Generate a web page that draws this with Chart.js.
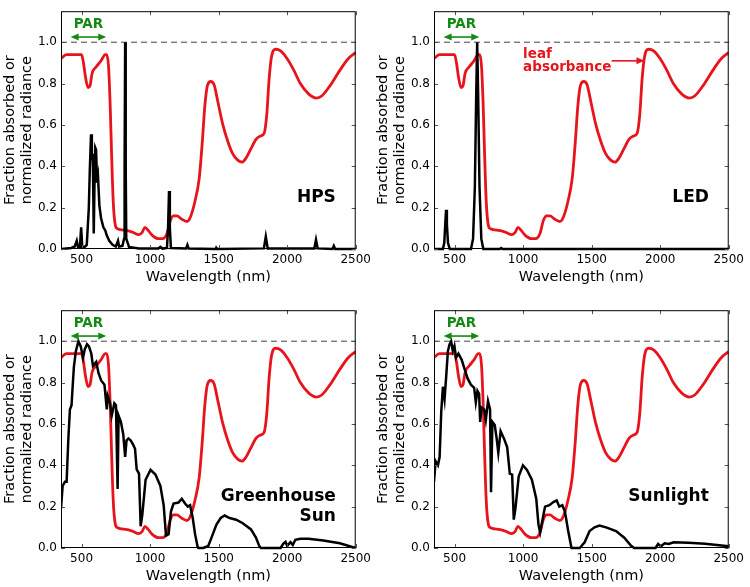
<!DOCTYPE html>
<html>
<head>
<meta charset="utf-8">
<script src="https://cdn.jsdelivr.net/npm/chart.js@4"></script>
<style>
  html, body { margin: 0; padding: 0; background: #fff; overflow: hidden; }
  #quadro { position: relative; width: 750px; height: 587px; overflow: hidden; }
  .painel { position: absolute; width: 375px; height: 293px; }
</style>
</head>
<body>
<div id="quadro">
  <div class="painel" style="left:0;top:0"><canvas id="hps"></canvas></div>
  <div class="painel" style="left:373px;top:0"><canvas id="led"></canvas></div>
  <div class="painel" style="left:0;top:299px"><canvas id="estufa"></canvas></div>
  <div class="painel" style="left:373px;top:299px"><canvas id="sol"></canvas></div>
</div>
<script>
// Absorbância da folha (igual nos quatro painéis)
const ondaFolha = [350, 389, 500, 514, 529, 548, 562, 577, 606, 630, 642, 673, 683, 697, 709, 719, 731, 745, 762,
  822, 870, 918, 942, 962, 986, 1014, 1062, 1091, 1123, 1147, 1171, 1195, 1231, 1267, 1291, 1327, 1358, 1380,
  1399, 1418, 1442, 1466, 1495, 1531, 1567, 1603, 1639, 1671, 1700, 1736, 1772, 1808, 1832, 1851, 1868, 1885,
  1916, 1952, 2000, 2048, 2096, 2156, 2212, 2252, 2313, 2385, 2445, 2500];
const absFolha = [0.92, 0.94, 0.94, 0.90, 0.83, 0.78, 0.79, 0.85, 0.88, 0.90, 0.91, 0.94, 0.94, 0.88, 0.69, 0.46, 0.23, 0.12, 0.098,
  0.09, 0.082, 0.07, 0.08, 0.105, 0.09, 0.067, 0.05, 0.05, 0.075, 0.136, 0.16, 0.16, 0.144, 0.133, 0.15, 0.23, 0.34, 0.51,
  0.69, 0.79, 0.81, 0.795, 0.71, 0.60, 0.52, 0.46, 0.43, 0.42, 0.44, 0.485, 0.53, 0.547, 0.56, 0.65, 0.82, 0.927,
  0.966, 0.958, 0.92, 0.865, 0.80, 0.75, 0.73, 0.74, 0.79, 0.865, 0.92, 0.95];

// Lâmpada de sódio (HPS)
const ondaHps = [350, 425, 450, 465, 474, 488, 497, 505, 522, 538, 553, 560, 569, 575, 582, 589, 594, 600, 606, 613, 620,
  630, 642, 659, 673, 683, 702, 726, 750, 766, 774, 798, 810, 814, 818, 822, 826, 846, 918, 1060, 1075, 1090, 1123, 1131,
  1138, 1144, 1152, 1262, 1272, 1282, 1480, 1483, 1490, 1830, 1844, 1858, 2198, 2210, 2222, 2330, 2340, 2350, 2500];
const radHps = [0, 0.005, 0.012, 0.04, 0.01, 0.01, 0.105, 0.01, 0.01, 0.02, 0.2, 0.38, 0.555, 0.43, 0.46, 0.075, 0.3, 0.49, 0.48, 0.32, 0.35,
  0.21, 0.15, 0.105, 0.09, 0.067, 0.04, 0.02, 0.012, 0.04, 0.012, 0.015, 0.05, 0.4, 1.0, 0.4, 0.05, 0.01, 0.003, 0.002, 0.01, 0.002, 0.005, 0.1,
  0.28, 0.1, 0.005, 0.002, 0.02, 0.002, 0, 0.006, 0, 0.003, 0.06, 0.003, 0.003, 0.045, 0.003, 0, 0.015, 0, 0];

// LED
const ondaLed = [350, 415, 425, 432, 438, 444, 452, 465, 620, 635, 648, 658, 665, 672, 682, 695, 710, 830, 840, 850, 2500];
const radLed = [0, 0, 0.03, 0.12, 0.19, 0.12, 0.03, 0, 0, 0.05, 0.3, 0.75, 1.0, 0.75, 0.3, 0.05, 0, 0, 0.005, 0, 0];

// Sol dentro da estufa
const ondaEstufa = [350, 362, 379, 391, 403, 415, 427, 434, 444, 458, 477, 494, 511, 523, 540, 554, 571, 583, 607, 624, 643, 667,
  684, 691, 708, 720, 739, 751, 763, 770, 787, 804, 818, 828, 842, 859, 876, 890, 902, 919, 931, 943, 967, 1003, 1039, 1075,
  1099, 1116, 1135, 1152, 1171, 1207, 1231, 1255, 1275, 1292, 1311, 1328, 1347, 1352, 1388, 1424, 1448, 1484, 1515, 1544,
  1580, 1628, 1676, 1736, 1772, 1796, 1808, 1952, 1971, 1988, 2000, 2024, 2041, 2060, 2096, 2156, 2264, 2384, 2500];
const radEstufa = [0.19, 0.30, 0.32, 0.32, 0.52, 0.67, 0.69, 0.77, 0.876, 0.95, 1.0, 0.975, 0.92, 0.96, 0.985, 0.975, 0.94, 0.88, 0.9, 0.845, 0.81, 0.79,
  0.67, 0.735, 0.70, 0.64, 0.70, 0.69, 0.285, 0.64, 0.61, 0.55, 0.44, 0.52, 0.53, 0.52, 0.50, 0.48, 0.38, 0.36, 0.105, 0.16, 0.33, 0.378, 0.355, 0.30,
  0.207, 0.06, 0.067, 0.176, 0.215, 0.22, 0.238, 0.215, 0.2, 0.207, 0.145, 0.067, 0.005, 0, 0, 0.01, 0.05, 0.113, 0.145, 0.157,
  0.145, 0.137, 0.12, 0.09, 0.05, 0.01, 0, 0, 0.02, 0.03, 0.01, 0.028, 0.015, 0.04, 0.045, 0.045, 0.036, 0.023, 0.0];

// Luz do sol
const ondaSol = [350, 362, 379, 391, 403, 415, 427, 439, 451, 463, 475, 487, 499, 511, 528, 552, 571, 595, 619, 643, 655, 667,
  679, 687, 696, 716, 728, 744, 759, 766, 776, 793, 807, 819, 836, 860, 884, 903, 920, 932, 944, 968, 999, 1028, 1064, 1096,
  1112, 1124, 1144, 1160, 1192, 1221, 1245, 1264, 1286, 1305, 1329, 1353, 1413, 1449, 1485, 1521, 1557, 1605, 1678, 1738,
  1786, 1810, 1966, 1985, 2005, 2033, 2062, 2098, 2206, 2327, 2500];
const radSol = [0.32, 0.42, 0.40, 0.44, 0.66, 0.78, 0.72, 0.83, 0.95, 0.985, 1.0, 0.953, 0.977, 0.92, 0.94, 0.91, 0.87, 0.82, 0.79, 0.775, 0.705, 0.76,
  0.745, 0.61, 0.68, 0.67, 0.62, 0.71, 0.67, 0.27, 0.61, 0.595, 0.53, 0.46, 0.565, 0.53, 0.487, 0.36, 0.355, 0.137, 0.19, 0.347, 0.40, 0.378, 0.33, 0.238,
  0.114, 0.075, 0.145, 0.2, 0.207, 0.222, 0.23, 0.2, 0.207, 0.176, 0.082, 0, 0, 0.028, 0.082, 0.10, 0.109, 0.10, 0.082, 0.05,
  0.012, 0, 0, 0.02, 0.008, 0.023, 0.02, 0.028, 0.025, 0.02, 0.008];

const ticksX = [500, 1000, 1500, 2000, 2500];
const ticksY = [0, 0.2, 0.4, 0.6, 0.8, 1.0];

const VERMELHO = '#e8141c';
const VERDE = '#138a13';
const FONTE = 'DejaVu Sans';

function pontos(xs, ys) {
    return xs.map((x, i) => ({ x: x, y: ys[i] }));
}

function seta(ctx, x1, y, x2, cor, dupla) {
    ctx.strokeStyle = cor;
    ctx.fillStyle = cor;
    ctx.lineWidth = 1.6;
    ctx.beginPath();
    ctx.moveTo(x1 + (dupla ? 4 : 0), y);
    ctx.lineTo(x2 - 4, y);
    ctx.stroke();
    const ponta = (px, dir) => {
        ctx.beginPath();
        ctx.moveTo(px, y);
        ctx.lineTo(px - dir * 8, y - 3.5);
        ctx.lineTo(px - dir * 8, y + 3.5);
        ctx.closePath();
        ctx.fill();
    };
    ponta(x2, 1);
    if (dupla) ponta(x1, -1);
}

// moldura com marcas para dentro e anotações
const moldura = {
    id: 'moldura',
    afterDatasetsDraw(chart, args, opts) {
        const { ctx, chartArea: a, scales: { x, y } } = chart;
        ctx.save();
        ctx.strokeStyle = '#555';
        ctx.lineWidth = 1;
        ctx.beginPath();
        ticksX.forEach(v => {
            const px = Math.round(x.getPixelForValue(v)) + 0.5;
            ctx.moveTo(px, a.bottom); ctx.lineTo(px, a.bottom - 4);
            ctx.moveTo(px, a.top); ctx.lineTo(px, a.top + 4);
        });
        ticksY.forEach(v => {
            const py = Math.round(y.getPixelForValue(v)) + 0.5;
            ctx.moveTo(a.left, py); ctx.lineTo(a.left + 4, py);
            ctx.moveTo(a.right, py); ctx.lineTo(a.right - 4, py);
        });
        ctx.stroke();
        ctx.strokeStyle = '#000';
        ctx.strokeRect(a.left + 0.5, a.top + 0.5, a.width - 1, a.height - 1);

        // PAR
        const yPar = y.getPixelForValue(1.025);
        seta(ctx, x.getPixelForValue(420), yPar, x.getPixelForValue(680), VERDE, true);
        ctx.fillStyle = VERDE;
        ctx.font = 'bold 13.5px "' + FONTE + '"';
        ctx.textAlign = 'center';
        ctx.textBaseline = 'middle';
        ctx.fillText('PAR', x.getPixelForValue(550), y.getPixelForValue(1.085));

        // nome do painel
        ctx.fillStyle = '#000';
        ctx.font = 'bold 17px "' + FONTE + '"';
        ctx.textAlign = 'right';
        opts.nome.forEach((linha, i) => {
            ctx.fillText(linha, x.getPixelForValue(2355), y.getPixelForValue(0.25) + i * 20);
        });

        if (opts.legenda) {
            ctx.fillStyle = VERMELHO;
            ctx.font = 'bold 13.5px "' + FONTE + '"';
            ctx.textAlign = 'left';
            ctx.fillText('leaf', x.getPixelForValue(1000), y.getPixelForValue(0.94));
            ctx.fillText('absorbance', x.getPixelForValue(1000), y.getPixelForValue(0.88));
            seta(ctx, x.getPixelForValue(1645), y.getPixelForValue(0.91), x.getPixelForValue(1885), VERMELHO, false);
        }
        ctx.restore();
    }
};

function criarPainel(id, ondas, valores, nome, legenda) {
    new Chart(document.getElementById(id), {
        type: 'line',
        data: {
            datasets: [{
                data: pontos(ondas, valores),
                borderColor: '#000',
                borderWidth: 2.5,
                tension: 0,
                clip: { left: 0, top: 0, right: 0, bottom: 3 }
            }, {
                data: pontos(ondaFolha, absFolha),
                borderColor: VERMELHO,
                borderWidth: 2.8,
                cubicInterpolationMode: 'monotone'
            }, {
                data: [{ x: 350, y: 1 }, { x: 2500, y: 1 }],
                borderColor: '#444',
                borderWidth: 1,
                borderDash: [6, 4]
            }]
        },
        options: {
            responsive: false,
            animation: false,
            events: [],
            elements: { point: { radius: 0 } },
            layout: { padding: { left: 0, right: 16, top: 3, bottom: 0 } },
            plugins: {
                legend: { display: false },
                tooltip: { enabled: false },
                moldura: { nome: nome, legenda: legenda }
            },
            scales: {
                x: {
                    type: 'linear',
                    min: 350,
                    max: 2500,
                    afterFit: s => { s.height = 44; },
                    afterBuildTicks: s => { s.ticks = ticksX.map(v => ({ value: v })); },
                    grid: { display: false, drawTicks: false },
                    border: { display: false },
                    ticks: { color: '#000', padding: 4, font: { family: FONTE, size: 12 }, callback: v => String(v) },
                    title: {
                        display: true,
                        text: 'Wavelength (nm)',
                        color: '#000',
                        font: { family: FONTE, size: 14.5 },
                        padding: { top: 0, bottom: 7 }
                    }
                },
                y: {
                    min: 0,
                    max: 1.15,
                    afterFit: s => { s.width = 61; },
                    afterBuildTicks: s => { s.ticks = ticksY.map(v => ({ value: v })); },
                    grid: { display: false, drawTicks: false },
                    border: { display: false },
                    ticks: {
                        color: '#000',
                        padding: 4,
                        font: { family: FONTE, size: 12 },
                        callback: v => v.toFixed(1)
                    },
                    title: {
                        display: true,
                        text: ['Fraction absorbed or', 'normalized radiance'],
                        color: '#000',
                        font: { family: FONTE, size: 14.5, lineHeight: 1.15 },
                        padding: { top: 2, bottom: 0 }
                    }
                }
            }
        },
        plugins: [moldura]
    });
}

document.querySelectorAll('canvas').forEach(c => { c.width = 375; c.height = 293; });

criarPainel('hps', ondaHps, radHps, ['HPS'], false);
criarPainel('led', ondaLed, radLed, ['LED'], true);
criarPainel('estufa', ondaEstufa, radEstufa, ['Greenhouse', 'Sun'], false);
criarPainel('sol', ondaSol, radSol, ['Sunlight'], false);
</script>
</body>
</html>
